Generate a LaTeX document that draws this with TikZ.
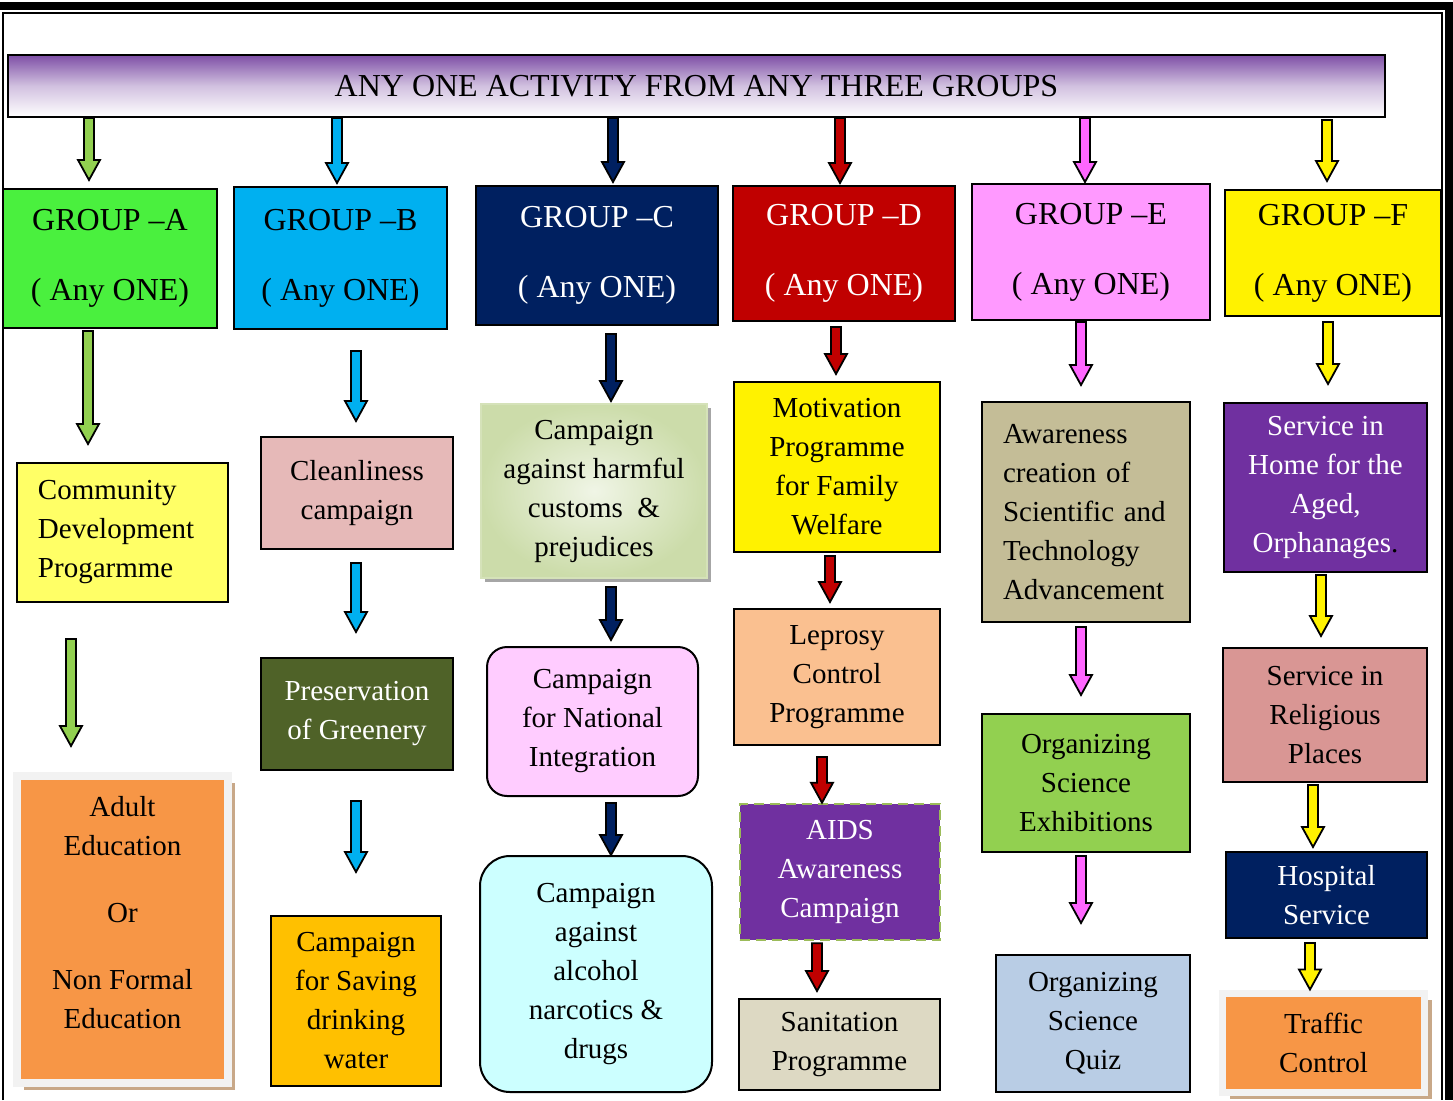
\documentclass[tikz,border=0pt]{standalone}
\usepackage{fontspec}
\setmainfont{Liberation Serif}
\usetikzlibrary{calc,shadows}
\definecolor{banner-violet}{RGB}{126, 79, 166}
\definecolor{grp-green}{RGB}{74, 240, 62}
\definecolor{arr-green}{RGB}{146, 208, 80}
\definecolor{sky}{RGB}{0, 176, 240}
\definecolor{navy}{RGB}{0, 32, 96}
\definecolor{darkred}{RGB}{192, 0, 0}
\definecolor{pink-head}{RGB}{255, 153, 255}
\definecolor{pink-arr}{RGB}{255, 102, 255}
\definecolor{lemon}{RGB}{255, 255, 102}
\definecolor{orange-box}{RGB}{247, 150, 70}
\definecolor{frame-grey}{RGB}{242, 242, 242}
\definecolor{shadow-tan}{RGB}{200, 168, 136}
\definecolor{rose}{RGB}{230, 185, 184}
\definecolor{olive}{RGB}{79, 98, 40}
\definecolor{gold}{RGB}{255, 192, 0}
\definecolor{sage}{RGB}{195, 214, 155}
\definecolor{sage-light}{RGB}{240, 245, 230}
\definecolor{lilac}{RGB}{255, 204, 255}
\definecolor{icecyan}{RGB}{204, 255, 255}
\definecolor{peach}{RGB}{250, 192, 144}
\definecolor{purple-box}{RGB}{112, 48, 160}
\definecolor{leaf}{RGB}{155, 187, 89}
\definecolor{sand}{RGB}{221, 217, 195}
\definecolor{khaki}{RGB}{196, 189, 151}
\definecolor{steel}{RGB}{185, 205, 229}
\definecolor{old-rose}{RGB}{217, 150, 148}

\newcommand\fs{\fontsize{14.5}{19.5}\selectfont}
\newcommand\fh{\fontsize{16}{19.5}\selectfont}
% block arrow: colour, x, from node, gap, to node, gap
\newcommand\flow[6]{%
  \draw[flow, fill=#1] let \p1=($(#2,0 |- #3.south)+(0,#4)$), \p2=($(#2,0 |- #5.north)+(0,-#6)$) in
    (\x1-2.5pt,\y1) -- (\x1-2.5pt,\y2+10pt) -- (\x1-5.5pt,\y2+10pt) -- (\x1,\y2)
    -- (\x1+5.5pt,\y2+10pt) -- (\x1+2.5pt,\y2+10pt) -- (\x1+2.5pt,\y1) -- cycle;}

\begin{document}
\begin{tikzpicture}[x=0.5pt, y=-0.5pt,
    box/.style = {shape = rectangle, draw = black, line width = 1pt, align = center, inner sep = 0pt, font = \fs},
    head/.style = {box, font = \fh},
    framed/.style = {box, draw = frame-grey, line width = 4pt, fill = orange-box,
        drop shadow = {shadow xshift = 3.5pt, shadow yshift = -3.5pt, fill = shadow-tan, opacity = 1}},
    flow/.style = {draw = black, line width = 0.9pt, line join = miter}
]
\useasboundingbox (0,0) rectangle (1453,1100);

% page border
\fill (0,2) rectangle (1453,10);
\fill (1445,2) rectangle (1453,1100);
\draw [line width=1pt] (3,1100) -- (3,12.5) -- (1442,12.5) -- (1442,1100);

% banner
\node [box, font=\fh, minimum width=688.5pt, minimum height=31pt,
    top color=banner-violet, bottom color=white, middle color=banner-violet!35!white] (top) at (696.5,86)
    {ANY ONE ACTIVITY FROM ANY THREE GROUPS};

% groups
\node [head, fill=grp-green, minimum width=107pt, minimum height=69.5pt] (ga) at (110,258.5) {GROUP --A\\[15.5pt]( Any ONE)};
\node [head, fill=sky, minimum width=106.5pt, minimum height=71pt] (gb) at (340.5,258) {GROUP --B\\[15.5pt]( Any ONE)};
\node [head, fill=navy, text=white, minimum width=121pt, minimum height=69.5pt] (gc) at (597,255.5) {GROUP --C\\[15.5pt]( Any ONE)};
\node [head, fill=darkred, text=white, minimum width=111pt, minimum height=67.5pt] (gd) at (844,253.5) {GROUP --D\\[15.5pt]( Any ONE)};
\node [head, fill=pink-head, minimum width=119pt, minimum height=68pt] (ge) at (1091,252) {GROUP --E\\[15.5pt]( Any ONE)};
\node [head, fill=yellow, minimum width=108pt, minimum height=63pt] (gf) at (1333,253) {GROUP --F\\[15.5pt]( Any ONE)};

% group A
\node [box, fill=lemon, minimum width=105.5pt, minimum height=69.5pt, text width=84.5pt, align=left] (cd) at (122.5,532.5)
    {Community\\Development\\Progarmme};
\node [framed, minimum width=105.5pt, minimum height=153.5pt] (ae) at (122.5,929.5)
    {Adult\\Education\\[14pt]Or\\[14pt]Non Formal\\Education\\[-2.5pt]\mbox{}};

% group B
\node [box, fill=rose, minimum width=96pt, minimum height=56pt] (cl) at (357,493) {Cleanliness\\campaign};
\node [box, fill=olive, text=white, minimum width=96pt, minimum height=56pt] (pg) at (357,714) {Preservation\\of Greenery};
\node [box, fill=gold, minimum width=85pt, minimum height=85pt] (sw) at (356,1001) {Campaign\\for Saving\\drinking\\water};

% group C
\node [box, draw=sage!70!white, inner color=sage-light, outer color=sage!85!white, minimum width=113pt, minimum height=87pt,
    drop shadow={shadow xshift=2pt, shadow yshift=-2pt, fill=gray!70, opacity=1}] (hc) at (594,491)
    {Campaign\\against harmful\\customs~~\&\\prejudices};
\node [box, rounded corners=10pt, fill=lilac, minimum width=105.5pt, minimum height=74.5pt] (ni) at (592.5,721.5)
    {Campaign\\for National\\Integration};
\node [box, rounded corners=15pt, fill=icecyan, minimum width=116pt, minimum height=118pt] (an) at (596,974)
    {Campaign\\against\\alcohol\\narcotics \&\\drugs};

% group D
\node [box, fill=yellow, minimum width=103pt, minimum height=85pt] (mf) at (837,467) {Motivation\\Programme\\for Family\\Welfare};
\node [box, fill=peach, minimum width=103pt, minimum height=68pt] (lc) at (837,677) {Leprosy\\Control\\Programme};
\node [box, fill=purple-box, text=white, draw=leaf, dash pattern=on 5pt off 3pt, line width=1.3pt,
    minimum width=100pt, minimum height=68pt] (ai) at (840,872)
    {AIDS\\Awareness\\Campaign};
\node [box, fill=sand, minimum width=100.5pt, minimum height=45.5pt] (sp) at (839.5,1044.5) {Sanitation\\Programme};

% group E
\node [box, fill=khaki, minimum width=104pt, minimum height=110pt, text width=83pt, align=left] (as) at (1086,512)
    {Awareness\\creation of\\Scientific and\\Technology\\Advancement};
\node [box, fill=arr-green, minimum width=104pt, minimum height=69pt] (se) at (1086,783) {Organizing\\Science\\Exhibitions};
\node [box, fill=steel, minimum width=97pt, minimum height=68.5pt] (sq) at (1093,1023.5) {Organizing\\Science\\Quiz};

% group F
\node [box, fill=purple-box, text=white, minimum width=101.5pt, minimum height=84.5pt] (ha) at (1325.5,487.5)
    {Service in\\Home for the\\Aged,\\Orphanages{\color{black}.}};
\node [box, fill=old-rose, minimum width=102pt, minimum height=67pt] (rp) at (1325,715) {Service in\\Religious\\Places};
\node [box, fill=navy, text=white, minimum width=100.5pt, minimum height=43pt] (hs) at (1326.5,895) {Hospital\\Service};
\node [framed, line width=3.5pt, minimum width=101pt, minimum height=49.5pt] (tc) at (1323.5,1042.5) {Traffic\\Control};

% arrows from banner
\flow{arr-green}{89}{top}{0}{ga}{8}
\flow{sky}{337}{top}{0}{gb}{3}
\flow{navy}{613}{top}{0}{gc}{3}
\flow{darkred}{840}{top}{0}{gd}{2}
\flow{pink-arr}{1085}{top}{0}{ge}{1}
\flow{yellow}{1327}{top}{2}{gf}{8}

% arrows in columns
\flow{arr-green}{88}{ga}{2}{cd}{18}
\flow{arr-green}{71}{cd}{36}{ae}{26}

\flow{sky}{356}{gb}{21}{cl}{15}
\flow{sky}{356}{cl}{13}{pg}{25}
\flow{sky}{356}{pg}{30}{sw}{43}

\flow{navy}{611}{gc}{8}{hc}{2}
\flow{navy}{611}{hc}{8}{ni}{6}
\flow{navy}{611}{ni}{6}{an}{0}

\flow{darkred}{836}{gd}{5}{mf}{7}
\flow{darkred}{830}{mf}{3}{lc}{6}
\flow{darkred}{822}{lc}{11}{ai}{0}
\flow{darkred}{817}{ai}{2}{sp}{7}

\flow{pink-arr}{1081}{ge}{1}{as}{16}
\flow{pink-arr}{1081}{as}{4}{se}{18}
\flow{pink-arr}{1081}{se}{3}{sq}{31}

\flow{yellow}{1328}{gf}{5}{ha}{18}
\flow{yellow}{1321}{ha}{2}{rp}{11}
\flow{yellow}{1313}{rp}{2}{hs}{4}
\flow{yellow}{1310}{hs}{4}{tc}{0}

\end{tikzpicture}
\end{document}
